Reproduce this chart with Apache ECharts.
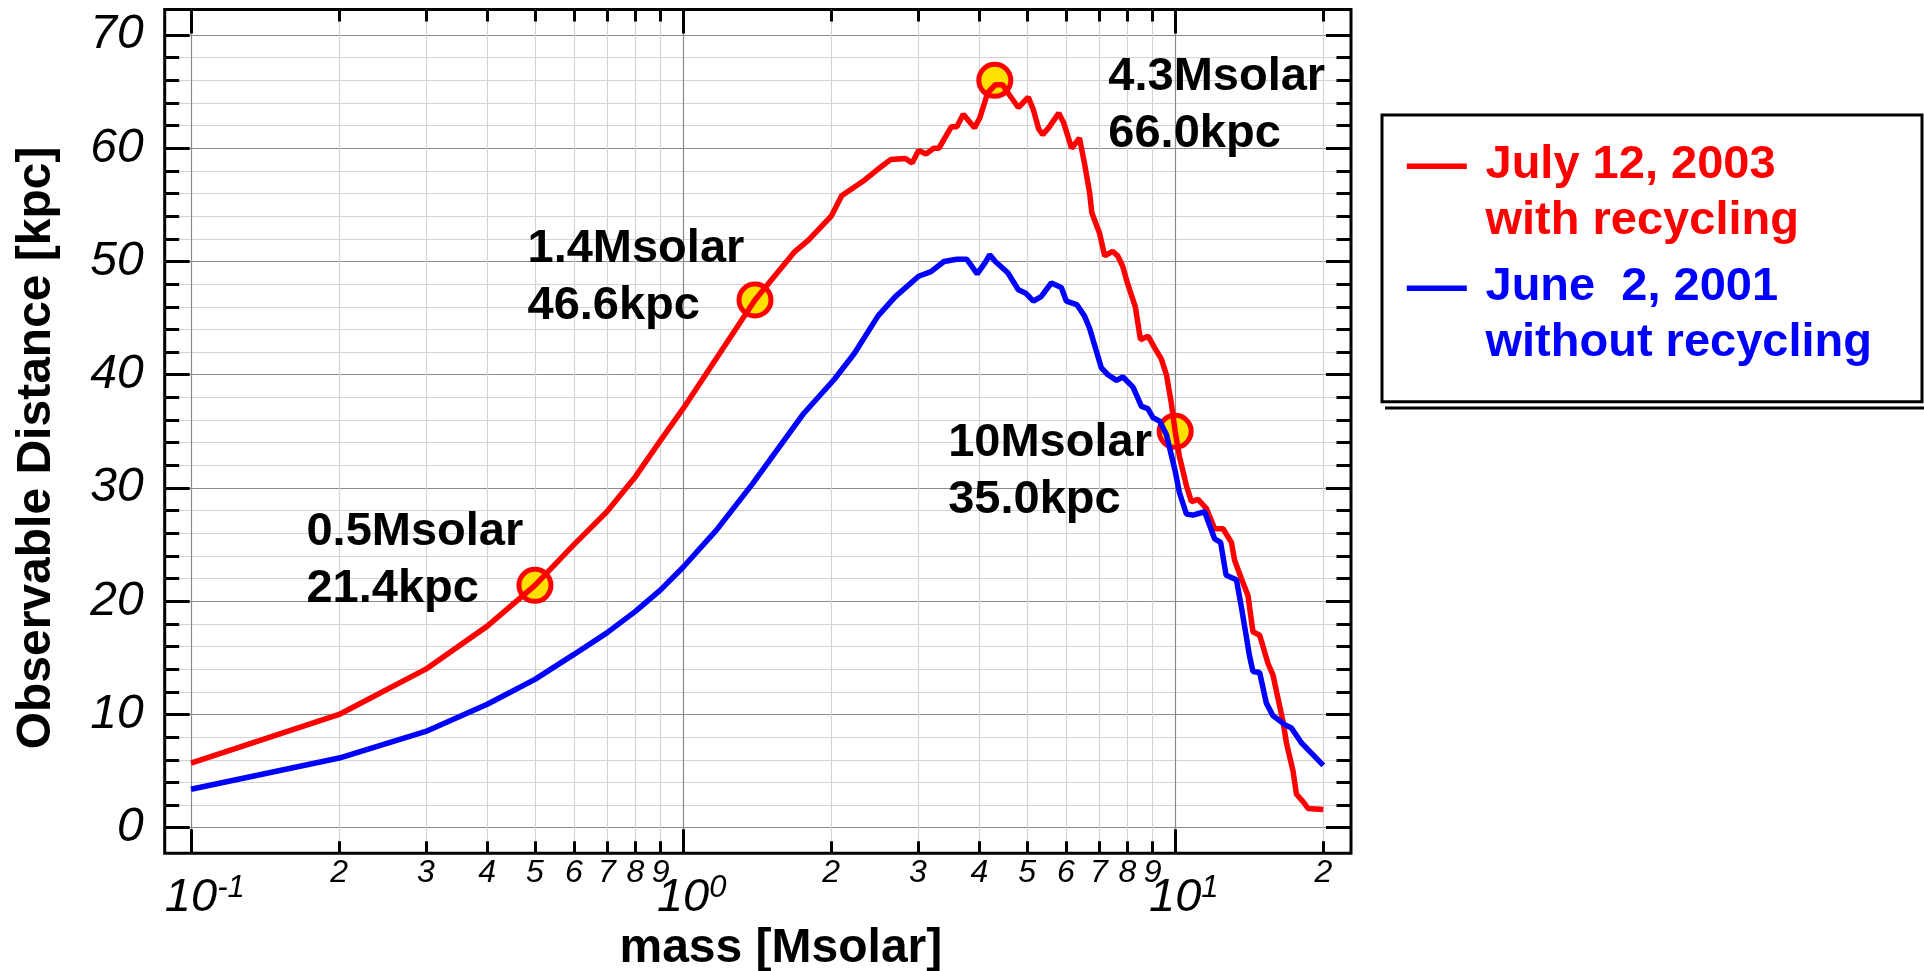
<!DOCTYPE html>
<html>
<head>
<meta charset="utf-8">
<script src="https://cdn.jsdelivr.net/npm/echarts@6/dist/echarts.min.js"></script>
<style>
  html, body { margin: 0; padding: 0; background: #ffffff; }
  #chart { width: 1924px; height: 971px; }
</style>
</head>
<body>
<div id="chart"></div>
<script>
// ---- series data: mass [Msolar] vs observable distance [kpc] ----
const redMass = [0.1, 0.2, 0.3, 0.4, 0.5, 0.6, 0.7, 0.8, 0.9, 1.0, 1.4, 1.68, 1.8, 2.0, 2.1, 2.34, 2.48, 2.64, 2.83, 2.92,
  3.01, 3.12, 3.23, 3.31, 3.51, 3.6, 3.71, 3.91, 4.01, 4.16, 4.31, 4.46, 4.57, 4.8, 5.03, 5.15, 5.28, 5.38, 5.53, 5.8,
  5.94, 6.16, 6.39, 6.54, 6.7, 6.77, 7.02, 7.19, 7.46, 7.64, 7.82, 8.01, 8.3, 8.5, 8.81, 9.08, 9.37, 9.6, 9.82, 10,
  10.2, 10.54, 10.79, 11.13, 11.57, 12.03, 12.51, 13.01, 13.21, 13.63, 14.06, 14.39, 14.85, 15.44, 15.8, 16.56, 16.83,
  17.36, 17.64, 18.19, 18.62, 20];
const redDist = [5.7, 10.0, 14.0, 17.8, 21.4, 25.0, 27.9, 31.0, 34.2, 37.0, 46.6, 50.8, 51.9, 54.0, 55.8, 57.2, 58.1, 59.0, 59.1, 58.7,
  59.8, 59.5, 60.0, 60.0, 61.9, 61.9, 63.0, 61.8, 62.7, 64.9, 65.6, 65.6, 64.9, 63.6, 64.5, 63.4, 61.7, 61.2, 61.8, 63.1,
  62.2, 60.0, 60.9, 58.7, 56.1, 54.3, 52.5, 50.5, 50.9, 50.5, 49.6, 48.0, 46.0, 43.1, 43.4, 42.4, 41.4, 40.0, 37.5, 35.0,
  32.8, 30.2, 28.8, 29.0, 28.2, 26.4, 26.4, 25.2, 23.6, 22.0, 20.5, 17.3, 17.0, 14.5, 13.5, 9.4, 7.5,
  5.0, 2.95, 2.3, 1.7, 1.6];

const blueMass = [0.1, 0.2, 0.3, 0.4, 0.5, 0.6, 0.7, 0.8, 0.9, 1.0, 1.17, 1.38, 1.76, 2.03, 2.23, 2.49, 2.7, 3.01, 3.19, 3.39,
  3.6, 3.77, 3.96, 4.11, 4.2, 4.31, 4.57, 4.8, 4.97, 5.15, 5.34, 5.6, 5.87, 6.01, 6.31, 6.54, 6.7, 7.08, 7.3, 7.6,
  7.83, 8.21, 8.54, 8.8, 9.02, 9.3, 9.6, 10.0, 10.2, 10.54, 10.87, 11.48, 12.03, 12.37, 12.69, 13.32, 13.63, 14.17,
  14.39, 14.85, 15.32, 15.8, 16.7, 17.23, 18.05, 18.62, 20];
const blueDist = [3.4, 6.15, 8.5, 10.9, 13.1, 15.3, 17.2, 19.1, 21.0, 23.0, 26.3, 30.3, 36.6, 39.6, 41.9, 45.2, 46.9, 48.7, 49.1, 50.0,
  50.2, 50.2, 48.9, 49.9, 50.6, 50.0, 49.0, 47.5, 47.2, 46.5, 46.9, 48.1, 47.7, 46.5, 46.2, 45.2, 44.1, 40.6, 40.0, 39.5,
  39.8, 38.9, 37.2, 37.0, 36.2, 35.9, 34.7, 31.5, 29.6, 27.7, 27.6, 27.9, 25.5, 25.2, 22.3, 21.9, 19.5, 15.1,
  13.8, 13.7, 11.0, 9.9, 9.1, 8.8, 7.5, 6.9, 5.5];

// highlighted points on the red curve
const markMass = [0.5, 1.4, 4.3, 10];
const markDist = [21.4, 46.6, 66.0, 35.0];

const seriesNames = ['July 12, 2003\nwith recycling', 'June  2, 2001\nwithout recycling'];
const seriesColors = ['#ff0000', '#0000ff'];

// ---- axis ticks ----
const xDecadeTicks = [0.1, 1, 10];
const xMinorTicks = [0.2, 0.3, 0.4, 0.5, 0.6, 0.7, 0.8, 0.9, 2, 3, 4, 5, 6, 7, 8, 9, 20];
const yMajorTicks = [0, 10, 20, 30, 40, 50, 60, 70];
const yMinorTicks = [2, 4, 6, 8, 12, 14, 16, 18, 22, 24, 26, 28, 32, 34, 36, 38, 42, 44, 46, 48, 52, 54, 56, 58, 62, 64, 66, 68];

// ---- layout ----
const FONT = '"Liberation Sans", Arial, Helvetica, sans-serif';
const LIGHT = '#d4d4d4';
const DARK = '#8a8a8a';
const frame = { left: 164.7, top: 9.5, right: 1351, bottom: 853.3 };   // plot frame (px)
// the frame sits a little outside the 0.1..20 / 0..70 data range
const xLogMin = -1.05344, xLogMax = 1.35732;
const yMin = -2.2607, yMax = 72.252;

const chart = echarts.init(document.getElementById('chart'), null, { renderer: 'canvas' });

const xMinorLog = xMinorTicks.map(v => Math.log10(v));
const xDecadeLog = xDecadeTicks.map(v => Math.log10(v));
const tickLine = { color: '#000', width: 3 };

function mantissa(logV) {
  const e = Math.floor(logV + 1e-9);
  return String(Math.round(Math.pow(10, logV - e)));
}

// decorative axis in log10 space (ticks, grid lines, labels), pinned to the frame edge
function decoX(position, extra) {
  return Object.assign({
    type: 'value', gridIndex: 0, position: position, offset: 0,
    min: xLogMin, max: xLogMax,
    axisLine: { show: false, onZero: false },
    axisTick: { show: false },
    axisLabel: { show: false },
    splitLine: { show: false }
  }, extra);
}
function decoY(position, extra) {
  return Object.assign({
    type: 'value', gridIndex: 0, position: position, offset: 0,
    min: yMin, max: yMax,
    axisLine: { show: false, onZero: false },
    axisTick: { show: false },
    axisLabel: { show: false },
    splitLine: { show: false }
  }, extra);
}

const supStyle = { fontSize: 31, fontStyle: 'italic', fontFamily: FONT, color: '#000', verticalAlign: 'top', lineHeight: 31 };

const option = {
  animation: false,
  backgroundColor: '#ffffff',
  grid: {
    left: frame.left, top: frame.top,
    right: 1924 - frame.right, bottom: 971 - frame.bottom,
    containLabel: false, outerBoundsMode: 'none',
    show: true, borderColor: '#000', borderWidth: 3, backgroundColor: 'transparent'
  },
  xAxis: [
    // data axis (log scale)
    { type: 'log', logBase: 10, gridIndex: 0, min: Math.pow(10, xLogMin), max: Math.pow(10, xLogMax), show: false,
      axisLine: { onZero: false } },
    // minor ticks, light grid, digit labels
    decoX('bottom', {
      axisTick: { show: true, inside: true, length: 12, customValues: xMinorLog, lineStyle: tickLine },
      splitLine: { show: true, lineStyle: { color: LIGHT, width: 1.2 } },
      axisLabel: { show: true, customValues: xMinorLog, formatter: mantissa, margin: 4,
        fontSize: 32, fontStyle: 'italic', fontFamily: FONT, color: '#000' },
      name: 'mass [Msolar]', nameLocation: 'middle', nameGap: 71,
      nameTextStyle: { fontSize: 48, fontWeight: 'bold', fontFamily: FONT, color: '#000', padding: [0, 0, 0, 46] }
    }),
    // decade ticks, dark grid, 10^n labels
    decoX('bottom', {
      axisTick: { show: true, inside: true, length: 24, customValues: xDecadeLog, lineStyle: tickLine },
      splitLine: { show: true, lineStyle: { color: DARK, width: 1.2 } },
      axisLabel: { show: true, customValues: xDecadeLog, margin: 20,
        formatter: function (v) { const e = String(Math.round(v)); return '{h|' + e + '}{b|10}{s|' + e + '}'; },
        rich: {
          b: { fontSize: 47, fontStyle: 'italic', fontFamily: FONT, color: '#000', lineHeight: 50 },
          s: supStyle,
          h: Object.assign({}, supStyle, { color: 'transparent' })
        } }
    }),
    decoX('top', { axisTick: { show: true, inside: true, length: 12, customValues: xMinorLog, lineStyle: tickLine } }),
    decoX('top', { axisTick: { show: true, inside: true, length: 24, customValues: xDecadeLog, lineStyle: tickLine } })
  ],
  yAxis: [
    // data axis
    { type: 'value', gridIndex: 0, min: yMin, max: yMax, show: false, axisLine: { onZero: false } },
    decoY('left', {
      axisTick: { show: true, inside: true, length: 14.5, customValues: yMinorTicks, lineStyle: tickLine },
      splitLine: { show: true, lineStyle: { color: LIGHT, width: 1.2 } }
    }),
    decoY('left', {
      axisTick: { show: true, inside: true, length: 25, customValues: yMajorTicks, lineStyle: tickLine },
      splitLine: { show: true, lineStyle: { color: DARK, width: 1.2 } },
      axisLabel: { show: true, customValues: yMajorTicks, margin: 21,
        fontSize: 48, fontStyle: 'italic', fontFamily: FONT, color: '#000' },
      name: 'Observable Distance [kpc]', nameLocation: 'middle', nameGap: 104,
      nameTextStyle: { fontSize: 48, fontWeight: 'bold', fontFamily: FONT, color: '#000', padding: [0, 33, 0, 0] }
    }),
    decoY('right', { axisTick: { show: true, inside: true, length: 14.5, customValues: yMinorTicks, lineStyle: tickLine } }),
    decoY('right', { axisTick: { show: true, inside: true, length: 25, customValues: yMajorTicks, lineStyle: tickLine } })
  ],
  legend: {
    orient: 'vertical', left: 1406.8, top: 137, padding: 0, itemGap: 10,
    itemWidth: 73.7, itemHeight: 112, symbolKeepAspect: false,
    icon: 'path://M0,0L0,0M0,26.5L60,26.5L60,32L0,32ZM73.7,112L73.7,112',
    selectedMode: false,
    textStyle: { fontSize: 47, fontWeight: 'bold', fontFamily: FONT, lineHeight: 56 },
    data: seriesNames.map((n, i) => ({ name: n, textStyle: { color: seriesColors[i] } }))
  },
  graphic: [
    // legend box with its offset under-line
    { type: 'rect', silent: true, z: 5, shape: { x: 1382, y: 115, width: 540, height: 286.7 },
      style: { fill: 'none', stroke: '#000', lineWidth: 3 } },
    { type: 'line', silent: true, z: 5, shape: { x1: 1385, y1: 408, x2: 1924, y2: 408 },
      style: { stroke: '#000', lineWidth: 3 } }
  ],
  series: [
    {
      type: 'scatter', name: 'marks', xAxisIndex: 0, yAxisIndex: 0, z: 1,
      symbol: 'circle', symbolSize: 32,
      itemStyle: { color: '#ffe100', borderColor: '#ff0000', borderWidth: 5, opacity: 1 },
      label: {
        show: true, color: '#000', fontSize: 47, fontWeight: 'bold', fontFamily: FONT, lineHeight: 57,
        formatter: p => p.value[0] + 'Msolar\n' + p.value[1].toFixed(1) + 'kpc'
      },
      data: markMass.map((m, i) => ({
        value: [m, markDist[i]],
        label: { position: [[-210, -63], [-209, -61], [132, -13], [-208.5, 2]][i] }
      }))
    },
    {
      type: 'line', name: seriesNames[0], xAxisIndex: 0, yAxisIndex: 0, z: 3,
      showSymbol: false, symbol: 'none', color: seriesColors[0],
      lineStyle: { color: seriesColors[0], width: 5.5 },
      data: redMass.map((m, i) => [m, redDist[i]])
    },
    {
      type: 'line', name: seriesNames[1], xAxisIndex: 0, yAxisIndex: 0, z: 3,
      showSymbol: false, symbol: 'none', color: seriesColors[1],
      lineStyle: { color: seriesColors[1], width: 5.5 },
      data: blueMass.map((m, i) => [m, blueDist[i]])
    }
  ]
};

chart.setOption(option);
</script>
</body>
</html>
